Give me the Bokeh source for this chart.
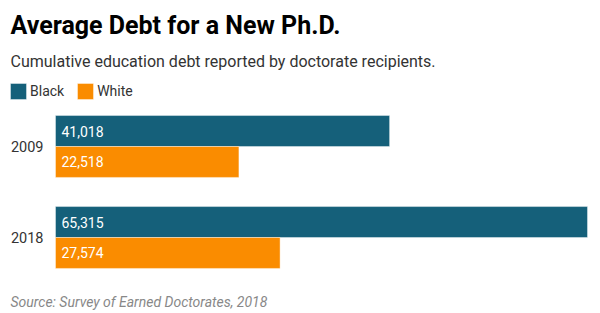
from bokeh.plotting import figure
from bokeh.models import ColumnDataSource, Range1d, Label, Legend, LegendItem
from bokeh.core.properties import value
from bokeh.embed import file_html
from bokeh.resources import INLINE

# ---- data ----
years = ["2009", "2018"]
black = [41018, 65315]
white = [22518, 27574]
series_names = ["Black", "White"]
title_text = "Average Debt for a New Ph.D."
subtitle_text = "Cumulative education debt reported by doctorate recipients."
source_text = "Source: Survey of Earned Doctorates, 2018"

BLUE = "#15607a"
ORANGE = "#fa8c00"
FONT = "Roboto"

W, H = 600, 313
p = figure(width=W, height=H, output_backend="svg", toolbar_location=None,
           x_range=Range1d(-6753, 66912), y_range=Range1d(1.835, -1.604),
           min_border=0, min_border_left=0, min_border_right=0,
           min_border_top=0, min_border_bottom=0, title=None)
p.axis.visible = False
p.grid.visible = False
p.outline_line_color = None
p.background_fill_color = "white"
p.border_fill_color = "white"

idx = list(range(len(years)))
bh = 0.34
src_b = ColumnDataSource(dict(y=[i - bh / 2 for i in idx], x=black,
                              lab=[f"{v:,}" for v in black], x0=[0] * len(idx)))
src_w = ColumnDataSource(dict(y=[i + bh / 2 for i in idx], x=white,
                              lab=[f"{v:,}" for v in white], x0=[0] * len(idx)))

rb = p.hbar(y="y", right="x", left=0, height=bh, source=src_b,
            fill_color=BLUE, line_color="white", line_alpha=0.4, line_width=1)
rw = p.hbar(y="y", right="x", left=0, height=bh, source=src_w,
            fill_color=ORANGE, line_color="white", line_alpha=0.4, line_width=1)

for s in (src_b, src_w):
    p.text(x="x0", y="y", text="lab", source=s, x_offset=6,
           text_color="white", text_font=value(FONT), text_font_size="14px",
           text_baseline="middle", text_align="left")

src_y = ColumnDataSource(dict(y=idx, x0=[0] * len(idx), t=years))
p.text(x="x0", y="y", text="t", source=src_y, x_offset=-12,
       text_color="#333333", text_font=value(FONT), text_font_size="14.5px",
       text_baseline="middle", text_align="right")

p.add_layout(Label(x=10, y=H - 25.3, x_units="screen", y_units="screen",
                   text=title_text, text_font=FONT, text_font_size="25px",
                   text_font_style="bold", text_color="#000000",
                   text_baseline="alphabetic"))
p.add_layout(Label(x=10, y=H - 61, x_units="screen", y_units="screen",
                   text=subtitle_text, text_font=FONT, text_font_size="16px",
                   text_color="#333333", text_baseline="alphabetic"))
p.add_layout(Label(x=10, y=H - 301, x_units="screen", y_units="screen",
                   text=source_text, text_font=FONT, text_font_size="14px",
                   text_font_style="italic", text_color="#888888",
                   text_baseline="alphabetic"))

legend = Legend(items=[LegendItem(label=series_names[0], renderers=[rb]),
                       LegendItem(label=series_names[1], renderers=[rw])],
                orientation="horizontal", location=(8, H - 101),
                glyph_width=20, glyph_height=20, label_height=20,
                label_standoff=2, spacing=11, padding=0, margin=0,
                border_line_alpha=0, background_fill_alpha=0,
                label_text_font=FONT, label_text_font_size="14px",
                label_text_color="#333333", label_text_baseline="middle")
p.add_layout(legend)

open("out.html", "w").write(file_html(p, INLINE))
